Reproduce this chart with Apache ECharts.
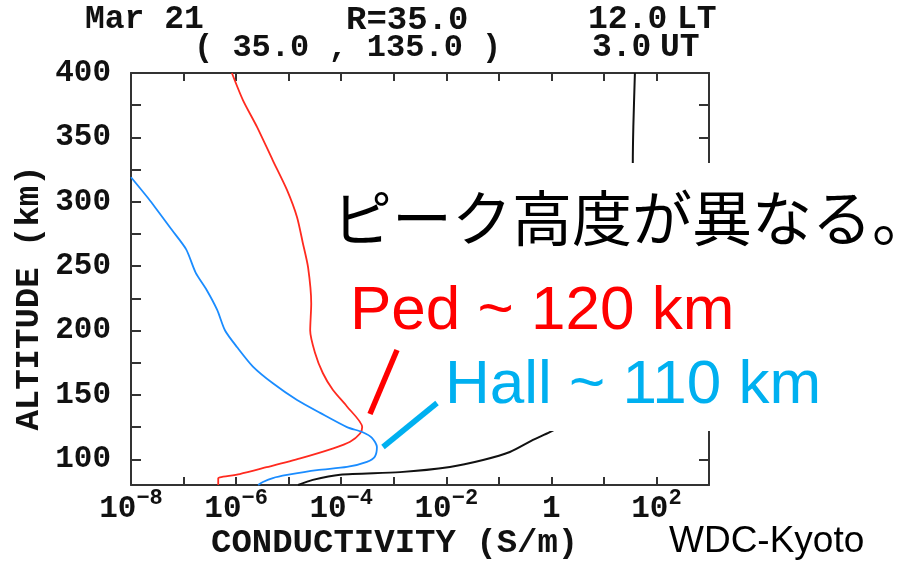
<!DOCTYPE html>
<html><head><meta charset="utf-8">
<script src="https://cdn.jsdelivr.net/npm/echarts@6/dist/echarts.min.js"></script>
<style>html,body{margin:0;padding:0;background:#fff}#c{width:915px;height:561px}</style>
</head><body><div id="c"></div>
<script>
// Pedersen conductivity (red): altitude km, log10(S/m)
const pedAltitude = [400,379,358,332,309,288,268,249,221,200,183,167,154,141,125,120,113.6,108.5,100.7,93.8,88.5,86,85.2,80];
const pedLogSigma = [-6.08,-5.87,-5.60,-5.30,-5.03,-4.84,-4.73,-4.63,-4.57,-4.59,-4.50,-4.35,-4.16,-3.89,-3.60,-3.64,-3.83,-4.15,-4.78,-5.42,-5.93,-6.31,-6.34,-6.34];
// Hall conductivity (blue)
const hallAltitude = [319,301,278,263,245,231.5,216,200,187,172,159,146,136,125,121,116.5,109.5,102,98,94,91.6,87.8,85.4,82.3,80];
const hallLogSigma = [-8.00,-7.64,-7.22,-6.95,-6.77,-6.56,-6.36,-6.21,-5.98,-5.68,-5.30,-4.84,-4.40,-3.89,-3.59,-3.41,-3.32,-3.36,-3.51,-3.89,-4.46,-5.03,-5.30,-5.49,-5.58];
// Parallel conductivity (black)
const parAltitude = [80,84,88,90,94,99.4,105.6,115,121,135,150,170,200,253,300,330,358,400];
const parLogSigma = [-4.82,-4.54,-4.02,-2.88,-1.93,-1.30,-0.79,-0.35,-0.03,0.6,1.1,1.4,1.52,1.61,1.58,1.55,1.56,1.59];

const xTickExponents = [-8,-6,-4,-2,0,2];
const yTickLabels = [100,150,200,250,300,350,400];
const yTickValues = [100,125,150,175,200,225,250,275,300,325,350,375,400];

const MONO = '"Liberation Mono", "DejaVu Sans Mono", monospace';
const SANS = '"Liberation Sans", Arial, sans-serif';
const AX = '#333';

function pairs(xs, ys){ return xs.map((x,i)=>[x, ys[i]]); }
function fmtX(v){
  if (v === 0) return '{b|1}';
  return '{b|10}{s|' + (v < 0 ? '\u2212' : '') + Math.abs(v) + '}';
}

const chart = echarts.init(document.getElementById('c'), null, {renderer:'canvas'});
const axisLine = {show:true, onZero:false, lineStyle:{color:AX, width:2}};
const tickStyle = {color:AX, width:2};

chart.setOption({
  animation:false,
  backgroundColor:'#fff',
  grid:{left:131, right:206, top:73, bottom:76, containLabel:false},
  xAxis:[{
    type:'value', min:-8, max:3, interval:1, position:'bottom',
    axisLine:axisLine,
    axisTick:{show:true, inside:true, length:8, lineStyle:tickStyle},
    axisLabel:{show:true, customValues:xTickExponents, margin:1, formatter:fmtX, lineHeight:46,
      rich:{
        b:{fontFamily:MONO, fontWeight:'bold', fontSize:31, lineHeight:46, color:'#111'},
        s:{fontFamily:MONO, fontWeight:'bold', fontSize:22, lineHeight:22, padding:[0,0,21,0], color:'#111'}
      }},
    splitLine:{show:false}
  },{
    type:'value', min:-8, max:3, interval:1, position:'top',
    axisLine:axisLine,
    axisTick:{show:true, inside:true, length:8, lineStyle:tickStyle},
    axisLabel:{show:false}, splitLine:{show:false}
  }],
  yAxis:[{
    type:'value', min:80, max:400, position:'left',
    axisLine:axisLine,
    axisTick:{show:true, inside:true, length:10, lineStyle:tickStyle, customValues:yTickValues},
    axisLabel:{show:true, customValues:yTickLabels, margin:20, fontFamily:MONO, fontWeight:'bold', fontSize:31, color:'#111'},
    splitLine:{show:false}
  },{
    type:'value', min:80, max:400, position:'right',
    axisLine:axisLine,
    axisTick:{show:true, inside:true, length:10, lineStyle:tickStyle, customValues:yTickValues},
    axisLabel:{show:false}, splitLine:{show:false}
  }],
  series:[
    {type:'line', name:'Parallel', data:pairs(parLogSigma, parAltitude), showSymbol:false, clip:true, smooth:0.25,
      lineStyle:{color:'#111', width:2}, z:2},
    {type:'line', name:'Pedersen', data:pairs(pedLogSigma, pedAltitude), showSymbol:false, clip:true, smooth:0.25,
      lineStyle:{color:'#ff2a1f', width:1.8}, z:3},
    {type:'line', name:'Hall', data:pairs(hallLogSigma, hallAltitude), showSymbol:false, clip:true, smooth:0.25,
      lineStyle:{color:'#1a8cff', width:1.8}, z:4}
  ],
  graphic:[
    {type:'rect', z:100, shape:{x:330, y:163, width:585, height:99}, style:{fill:'#fff'}},
    {type:'rect', z:100, shape:{x:345, y:261, width:570, height:95}, style:{fill:'#fff'}},
    {type:'rect', z:100, shape:{x:437, y:355, width:478, height:76}, style:{fill:'#fff'}},
    {type:'line', z:101, shape:{x1:397, y1:350, x2:370, y2:414}, style:{stroke:'#ff0000', lineWidth:5.5}},
    {type:'line', z:101, shape:{x1:437, y1:403, x2:383, y2:447}, style:{stroke:'#00b0f0', lineWidth:5.5}},
    {type:'text', z:102, x:332, y:218, style:{text:'ピーク高度が異なる。', font:'60px "Noto Sans CJK JP"', fill:'#000', verticalAlign:'middle'}},
    {type:'text', z:102, x:350, y:312, style:{text:'Ped ~ 120 km', font:'62px ' + SANS, fill:'#ff0000', verticalAlign:'middle'}},
    {type:'text', z:102, x:445, y:386, style:{text:'Hall ~ 110 km', font:'62px ' + SANS, fill:'#00b0f0', verticalAlign:'middle'}},
    {type:'text', z:102, x:669, y:542, style:{text:'WDC-Kyoto', font:'37px ' + SANS, fill:'#000', verticalAlign:'middle'}},
    // header
    {type:'text', z:102, x:85, y:20, style:{text:'Mar 21', font:'bold 33px ' + MONO, fill:'#111', verticalAlign:'middle'}},
    {type:'text', z:102, x:346, y:20, style:{text:'R=35.0', font:'bold 34px ' + MONO, fill:'#111', verticalAlign:'middle'}},
    {type:'text', z:102, x:588, y:20, style:{text:'12.0', font:'bold 33px ' + MONO, fill:'#111', verticalAlign:'middle'}},
    {type:'text', z:102, x:677, y:20, style:{text:'LT', font:'bold 33px ' + MONO, fill:'#111', verticalAlign:'middle'}},
    {type:'text', z:102, x:194, y:48, style:{text:'( 35.0 , 135.0 )', font:'bold 32px ' + MONO, fill:'#111', verticalAlign:'middle'}},
    {type:'text', z:102, x:592, y:48, style:{text:'3.0', font:'bold 33px ' + MONO, fill:'#111', verticalAlign:'middle'}},
    {type:'text', z:102, x:660, y:48, style:{text:'UT', font:'bold 33px ' + MONO, fill:'#111', verticalAlign:'middle'}},
    // axis titles
    {type:'text', z:102, x:211, y:543, style:{text:'CONDUCTIVITY (S/m)', font:'bold 34px ' + MONO, fill:'#111', verticalAlign:'middle'}},
    {type:'text', z:102, x:29, y:298, rotation:Math.PI/2, style:{text:'ALTITUDE (km)', font:'bold 34px ' + MONO, fill:'#111', align:'center', verticalAlign:'middle'}}
  ]
});
</script>
</body></html>
